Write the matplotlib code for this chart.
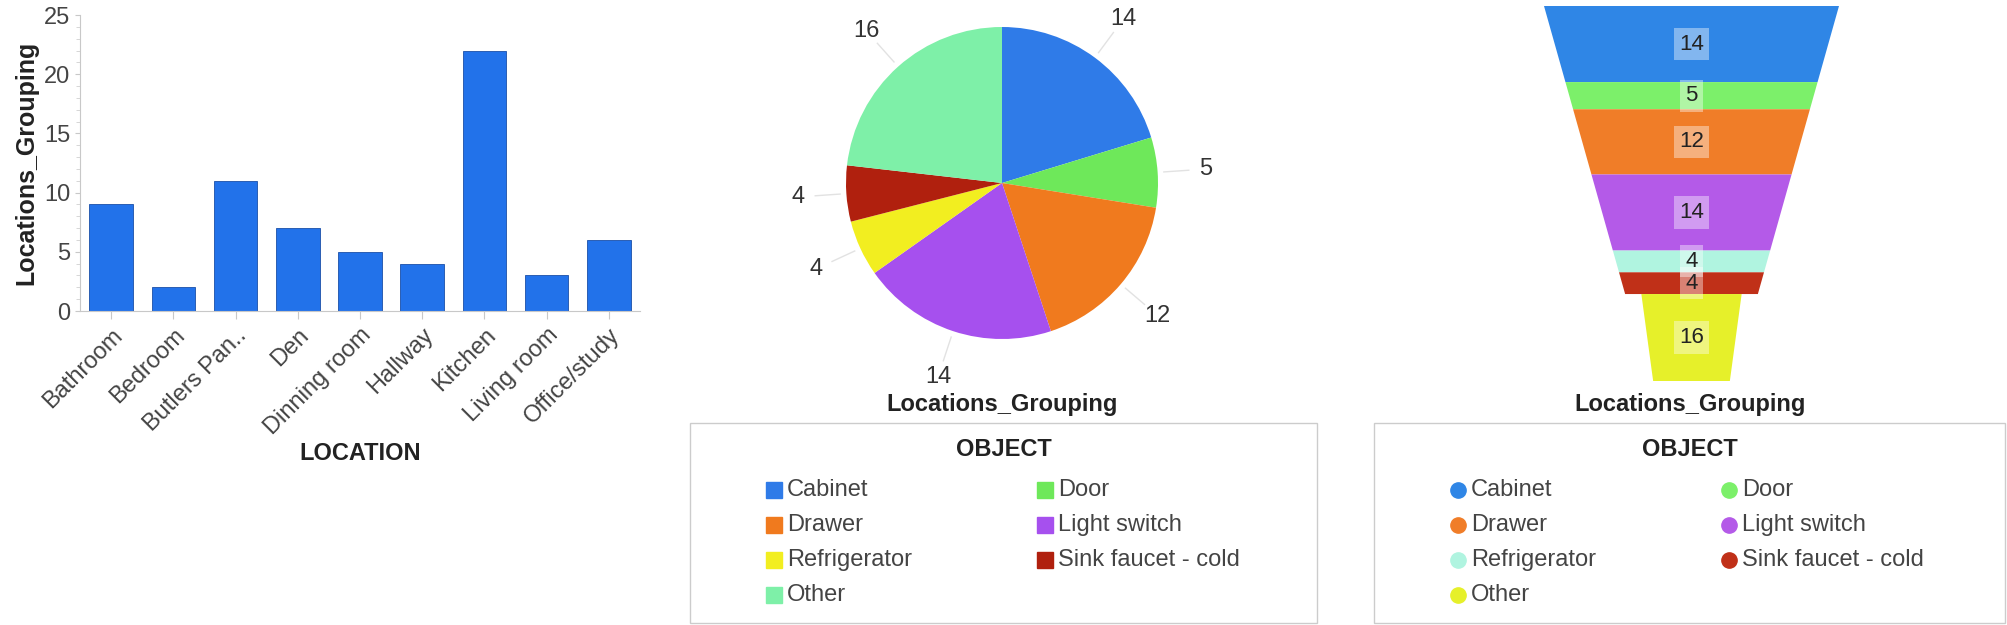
import matplotlib
matplotlib.use("Agg")
import matplotlib.pyplot as plt
import numpy as np
from matplotlib.patches import Rectangle, Polygon

plt.rcParams['font.family'] = ['Liberation Sans', 'DejaVu Sans']

# bar chart data
locations = ["Bathroom", "Bedroom", "Butlers Pan..", "Den", "Dinning room",
             "Hallway", "Kitchen", "Living room", "Office/study"]
location_counts = [9, 2, 11, 7, 5, 4, 22, 3, 6]

# object data (pie + funnel)
objects = ["Cabinet", "Door", "Drawer", "Light switch", "Refrigerator",
           "Sink faucet - cold", "Other"]
object_counts = [14, 5, 12, 14, 4, 4, 16]

pie_colors = ["#2f7be8", "#6ee85a", "#f07a1e", "#a650ee", "#f2ee20",
              "#b0200e", "#7ef0a8"]
funnel_colors = ["#2f86e6", "#7cf06a", "#f07d28", "#b45ae8", "#b0f4e0",
                 "#c03018", "#e6f02a"]

W, H = 2008, 625
fig = plt.figure(figsize=(W / 100, H / 100), dpi=100)


def box(x0, y0, x1, y1):
    # pixel box (top-left origin) -> figure fraction rect
    return [x0 / W, 1 - y1 / H, (x1 - x0) / W, (y1 - y0) / H]


def fx(x):
    return x / W


def fy(y):
    return 1 - y / H


# ---------------- bar chart ----------------
ax = fig.add_axes(box(80, 15, 640, 311))
ax.bar(range(len(locations)), location_counts, width=0.7, color="#2272ea",
       edgecolor="#1a4fa8", linewidth=0.6)
ax.set_xlim(-0.5, len(locations) - 0.5)
ax.set_ylim(0, 25)
ax.set_yticks(range(0, 26, 5))
ax.set_yticks(range(0, 26), minor=True)
ax.set_xticks(range(len(locations)))
ax.set_xticklabels(locations, rotation=45, ha="right", rotation_mode="anchor")
ax.tick_params(axis="both", labelsize=17, colors="#c8c8c8", labelcolor="#444444")
ax.tick_params(axis="y", which="minor", length=3, color="#d0d0d0")
ax.tick_params(axis="x", length=6)
for side in ["top", "right"]:
    ax.spines[side].set_visible(False)
for side in ["left", "bottom"]:
    ax.spines[side].set_color("#c8c8c8")
ax.set_ylabel("Locations_Grouping", fontsize=18, fontweight="bold", color="#222222")
ax.set_xlabel("LOCATION", fontsize=17, fontweight="bold", color="#222222",
              labelpad=2)

# ---------------- pie chart ----------------
R = 156
cx, cy = 1002, 183
half = R * 1.45
pax = fig.add_axes(box(cx - half, cy - half, cx + half, cy + half))
wedges, texts = pax.pie(object_counts, colors=pie_colors, startangle=90,
                        counterclock=False, labels=[str(v) for v in object_counts],
                        labeldistance=1.31, radius=1.0,
                        textprops=dict(fontsize=17, color="#333333"))
for t in texts:
    t.set_ha("center")
    t.set_va("center")
for w in wedges:
    ang = np.deg2rad((w.theta1 + w.theta2) / 2)
    r = np.array([1.04, 1.2])
    pax.plot(r * np.cos(ang), r * np.sin(ang), color="#e2e2e2", lw=1)
pax.set_xlim(-1.45, 1.45)
pax.set_ylim(-1.45, 1.45)
pax.set_aspect("equal")
pax.axis("off")

# ---------------- funnel chart ----------------
fax = fig.add_axes(box(1544, 6, 1839, 381))
total = sum(object_counts)
cum = np.concatenate([[0], np.cumsum(object_counts)])
neck_at = cum[-2]


def half_width(v, neck):
    if neck:
        return 0.34 + (v - neck_at) / (total - neck_at) * (0.26 - 0.34)
    return 1.0 + v / neck_at * (0.45 - 1.0)


for i, (val, col) in enumerate(zip(object_counts, funnel_colors)):
    y0, y1 = cum[i], cum[i + 1]
    neck = i == len(object_counts) - 1
    w0, w1 = half_width(y0, neck), half_width(y1, neck)
    fax.add_patch(Polygon([(-w0, y0), (w0, y0), (w1, y1), (-w1, y1)],
                          closed=True, facecolor=col, edgecolor="none"))
    fax.text(0, (y0 + y1) / 2, str(val), ha="center", va="center",
             fontsize=16, color="#222222",
             bbox=dict(boxstyle="square,pad=0.25", facecolor="white",
                       edgecolor="none", alpha=0.4))
fax.set_xlim(-1, 1)
fax.set_ylim(total, 0)
fax.axis("off")

# ---------------- titles and legends ----------------
for center_x, left, right, colors, mk in [
        (1002, 690, 1317, pie_colors, "s"),
        (1690, 1374, 2005, funnel_colors, "o")]:
    fig.text(fx(center_x), fy(404), "Locations_Grouping", ha="center",
             va="center", fontsize=17, fontweight="bold", color="#222222")
    fig.add_artist(Rectangle((fx(left), fy(623)), fx(right - left),
                             (623 - 423) / H, transform=fig.transFigure,
                             facecolor="none", edgecolor="#cccccc", lw=1))
    fig.text(fx((left + right) / 2), fy(449), "OBJECT", ha="center",
             va="center", fontsize=17, fontweight="bold", color="#222222")
    col_x = [left + 84, left + 355]
    rows = [490, 525, 560, 595]
    order = [0, 2, 4, 6, 1, 3, 5]
    for k, idx in enumerate(order):
        c = 0 if k < 4 else 1
        r = k if k < 4 else k - 4
        mx, my = col_x[c], rows[r]
        fig.lines.append(plt.Line2D([fx(mx)], [fy(my)], marker=mk,
                                    markersize=11, color=colors[idx],
                                    transform=fig.transFigure))
        fig.text(fx(mx + 13), fy(my), objects[idx], ha="left", va="center",
                 fontsize=17, color="#444444")

fig.savefig("out.png", dpi=100)
